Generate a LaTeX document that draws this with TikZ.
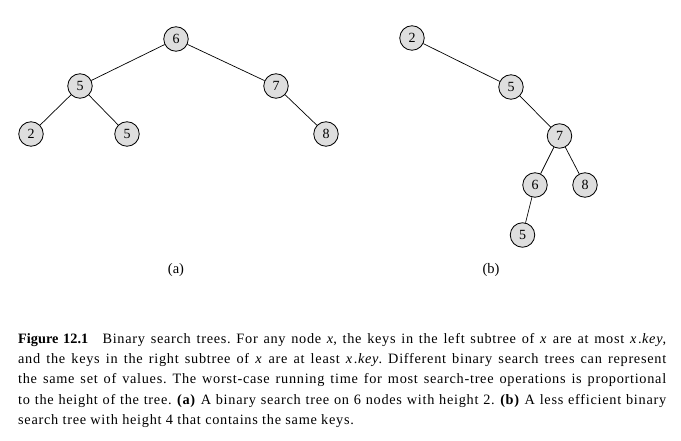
\documentclass[tikz,border=0pt]{standalone}
\usepackage{fontspec}
\setmainfont{Liberation Serif}
\newfontfamily\capfont[LetterSpace=5]{Liberation Serif}
\begin{document}
\begin{tikzpicture}[x=1pt,y=-1pt,
  key/.style={circle,draw=black,fill=black!13,line width=0.8pt,minimum size=24.5pt,inner sep=0pt,font=\fontsize{14}{14}\selectfont},
  edge/.style={line width=0.7pt}]
\useasboundingbox (0,0) rectangle (681,441);
% tree (a)
\node[key] (a6) at (176,39) {6};
\node[key] (a5) at (80,86) {5};
\node[key] (a7) at (276,86) {7};
\node[key] (a2) at (31,134) {2};
\node[key] (a5b) at (127,134) {5};
\node[key] (a8) at (326,134) {8};
\draw[edge] (a6) -- (a5);
\draw[edge] (a6) -- (a7);
\draw[edge] (a5) -- (a2);
\draw[edge] (a5) -- (a5b);
\draw[edge] (a7) -- (a8);
% tree (b)
\node[key] (b2) at (412,38) {2};
\node[key] (b5) at (511,87) {5};
\node[key] (b7) at (559.5,136) {7};
\node[key] (b6) at (535,185) {6};
\node[key] (b8) at (585,185) {8};
\node[key] (b5b) at (522.5,235) {5};
\draw[edge] (b2) -- (b5);
\draw[edge] (b5) -- (b7);
\draw[edge] (b7) -- (b6);
\draw[edge] (b7) -- (b8);
\draw[edge] (b6) -- (b5b);
% sublabels
\node[font=\fontsize{14.5}{14.5}\selectfont] (la) at (176,270) {(a)};
\node[font=\fontsize{14.5}{14.5}\selectfont] (lb) at (491,270) {(b)};
% caption
\node[anchor=north west,inner sep=0pt,text width=648pt,align=justify,font=\capfont\fontsize{14.3}{20.3}\selectfont\frenchspacing] (cap) at (18,333)
{{\setmainfont{Liberation Serif}\bfseries Figure 12.1}\quad Binary search trees. For any node \textit{x}, the keys in the left subtree of \textit{x} are at most \textit{x}\kern1pt.\kern0.5pt\textit{key},\linebreak and the keys in the right subtree of \textit{x} are at least \textit{x}\kern1pt.\kern0.5pt\textit{key}. Different binary search trees can represent\linebreak the same set of values. The worst-case running time for most search-tree operations is proportional\linebreak to the height of the tree. \textbf{(a)} A binary search tree on 6 nodes with height 2. \textbf{(b)} A less efficient binary\linebreak search tree with height 4 that contains the same keys.};
\end{tikzpicture}
\end{document}
